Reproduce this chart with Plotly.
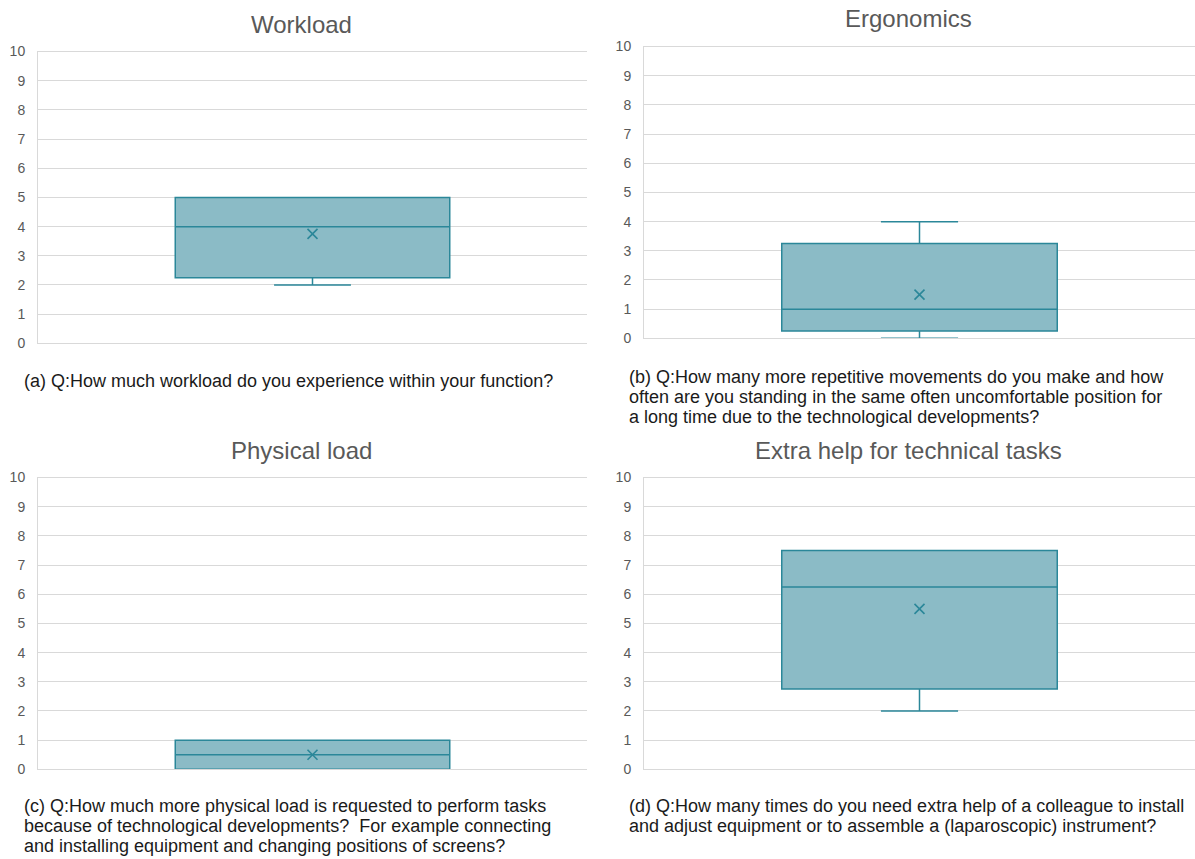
import plotly.graph_objects as go

W, H = 1195, 859

# ---- data ----
categories = ["Workload", "Ergonomics", "Physical load", "Extra help for technical tasks"]
q1_vals = [2.25, 0.25, 0.0, 2.75]
median_vals = [4.0, 1.0, 0.5, 6.25]
q3_vals = [5.0, 3.25, 1.0, 7.5]
lower_vals = [2.0, 0.0, 0.0, 2.0]
upper_vals = [5.0, 4.0, 1.0, 7.5]
mean_vals = [3.75, 1.5, 0.5, 5.5]
y_ticks = list(range(0, 11))
caption_lines = [
    ["(a) Q:How much workload do you experience within your function?"],
    ["(b) Q:How many more repetitive movements do you make and how",
     "often are you standing in the same often uncomfortable position for",
     "a long time due to the technological developments?"],
    ["(c) Q:How much more physical load is requested to perform tasks",
     "because of technological developments?&nbsp; For example connecting",
     "and installing equipment and changing positions of screens?"],
    ["(d) Q:How many times do you need extra help of a colleague to install",
     "and adjust equipment or to assemble a (laparoscopic) instrument?"],
]

# ---- layout geometry (pixels, compensated for page rendering) ----
panels = [
    dict(x0=38, x1=587, ytop=44.4, ybot=341.7, tx=301, ty=16.9, cx=22, cy=380.5),
    dict(x0=644, x1=1195, ytop=39.3, ybot=336.6, tx=908, ty=10.7, cx=627, cy=376.4),
    dict(x0=38, x1=587, ytop=478.5, ybot=775.8, tx=301, ty=451, cx=22, cy=813.6),
    dict(x0=644, x1=1195, ytop=478.5, ybot=775.8, tx=908, ty=451, cx=627, cy=813.6),
]
LINE_GAP = 20.4

LINE = "#2b8799"
FILL = "#8bbbc6"
GRID = "#d9d9d9"
FONT = "Liberation Sans, Arial, sans-serif"

fig = go.Figure()
layout = dict(
    width=W, height=H, margin=dict(l=0, r=0, t=0, b=0),
    paper_bgcolor="white", plot_bgcolor="white", showlegend=False,
    font=dict(family=FONT),
)
annotations = []

for i, p in enumerate(panels):
    sfx = "" if i == 0 else str(i + 1)
    xa, ya = "x" + sfx, "y" + sfx
    fig.add_trace(go.Box(
        x=[0], q1=[q1_vals[i]], median=[median_vals[i]], q3=[q3_vals[i]],
        lowerfence=[lower_vals[i]], upperfence=[upper_vals[i]],
        width=0.5, whiskerwidth=0.28, boxpoints=False,
        fillcolor=FILL, line=dict(color=LINE, width=1.5),
        xaxis=xa, yaxis=ya, name=categories[i], hoverinfo="y",
    ))
    fig.add_trace(go.Scatter(
        x=[0], y=[mean_vals[i]], mode="markers",
        marker=dict(symbol="x-thin", size=10, line=dict(color=LINE, width=1.6)),
        xaxis=xa, yaxis=ya, hoverinfo="y",
    ))
    layout["xaxis" + sfx] = dict(
        domain=[p["x0"] / W, p["x1"] / W], range=[-0.5, 0.5],
        showticklabels=False, showgrid=False, zeroline=False,
        showline=True, mirror=True, linecolor=GRID, linewidth=1,
        anchor=ya,
    )
    layout["yaxis" + sfx] = dict(
        domain=[1 - p["ybot"] / H, 1 - p["ytop"] / H], range=[0, 10],
        tickvals=y_ticks, showgrid=True, gridcolor=GRID, gridwidth=1,
        showline=True, linecolor=GRID, linewidth=1, zeroline=False,
        ticks="", ticklabelstandoff=9,
        tickfont=dict(size=14, color="#595959", family=FONT), anchor=xa,
    )
    annotations.append(dict(
        text=categories[i], x=p["tx"] / W, y=1 - p["ty"] / H,
        xref="paper", yref="paper", xanchor="center", yanchor="middle",
        showarrow=False, font=dict(size=24, color="#595959", family=FONT),
    ))
    for k, line in enumerate(caption_lines[i]):
        annotations.append(dict(
            text=line, x=p["cx"] / W, y=1 - (p["cy"] + k * LINE_GAP) / H,
            xref="paper", yref="paper", xanchor="left", yanchor="middle",
            align="left", showarrow=False,
            font=dict(size=18, color="#1a1a1a", family=FONT),
        ))

layout["annotations"] = annotations
fig.update_layout(**layout)
fig.write_html("out.html", config={"displayModeBar": False},
               post_script="document.body.style.margin='0';")
